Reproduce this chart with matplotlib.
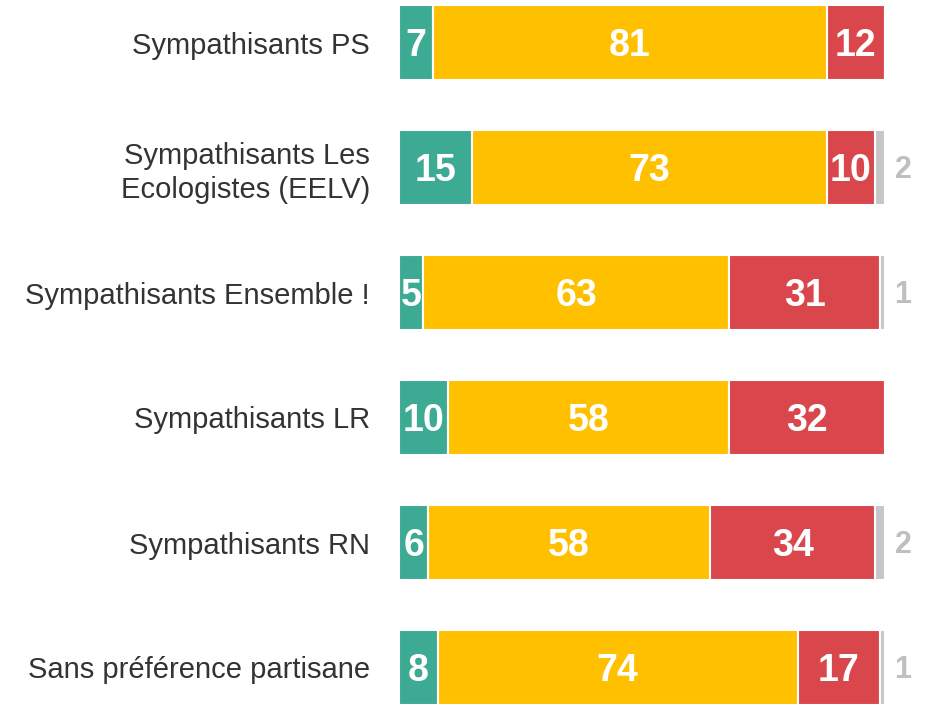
import matplotlib.pyplot as plt
import numpy as np

categories = ['Sympathisants PS', 'Sympathisants Les\nEcologistes (EELV)',
              'Sympathisants Ensemble !', 'Sympathisants LR',
              'Sympathisants RN', 'Sans préférence partisane']
green = [7, 15, 5, 10, 6, 8]
yellow = [81, 73, 63, 58, 58, 74]
red = [12, 10, 31, 32, 34, 17]
grey = [0, 2, 1, 0, 2, 1]

colors = ['#3DAA93', '#FFC000', '#D9464C', '#C6C6C6']
plt.rcParams['font.family'] = ['Liberation Sans', 'DejaVu Sans']

fig = plt.figure(figsize=(9.32, 7.05), dpi=100)
ax = fig.add_axes([399 / 932, 0, (885 - 399) / 932, 1])

y = np.arange(len(categories))
left = np.zeros(len(categories))
for vals, c in zip([green, yellow, red, grey], colors):
    vals = np.array(vals, dtype=float)
    ax.barh(y, vals, left=left, height=0.6, color=c, edgecolor='white', linewidth=1.5)
    for yi, l, v in zip(y, left, vals):
        if v <= 0:
            continue
        if c == colors[3]:
            ax.text(103.7, yi + 0.02, f'{int(v)}', ha='center', va='center',
                    color='#BFBFBF', fontsize=22, fontweight='bold')
        else:
            ax.text(l + v / 2, yi + 0.03, f'{int(v)}', ha='center', va='center',
                    color='white', fontsize=27, fontweight='bold')
    left += vals

ax.set_xlim(0, 100)
ax.set_ylim(5.3, -0.34)
ax.set_yticks(y)
ax.set_yticklabels(categories, fontsize=21, color='#333333', linespacing=1.25)
ax.tick_params(axis='y', length=0, pad=21)
ax.set_xticks([])
for s in ax.spines.values():
    s.set_visible(False)

fig.savefig('out.png', dpi=100)
